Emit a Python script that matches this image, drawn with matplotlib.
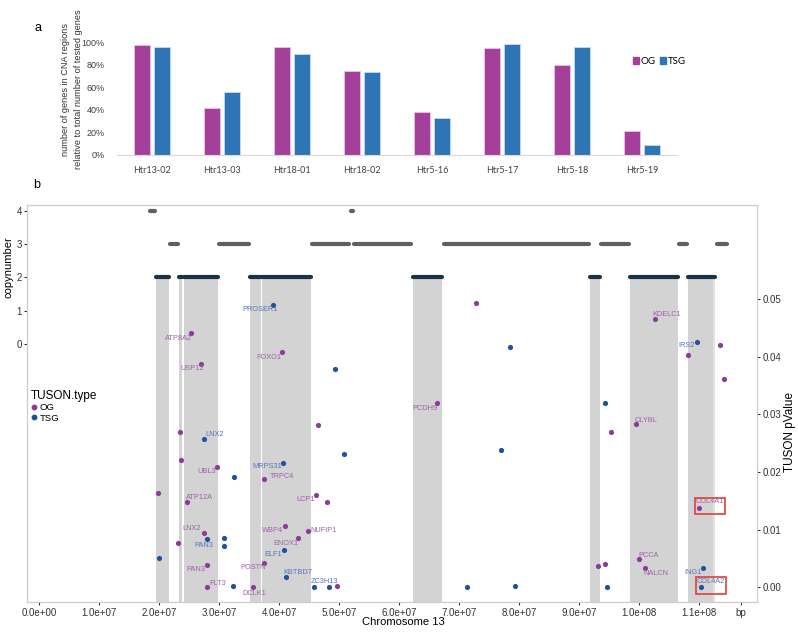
import matplotlib.pyplot as plt
from matplotlib.lines import Line2D
from matplotlib.patches import Patch, Rectangle

plt.rcParams['font.family'] = ['Liberation Sans', 'DejaVu Sans']

# ---- panel a data ----
samples = ["Htr13-02", "Htr13-03", "Htr18-01", "Htr18-02",
           "Htr5-16", "Htr5-17", "Htr5-18", "Htr5-19"]
og_frac = [0.973, 0.414, 0.958, 0.743, 0.382, 0.949, 0.796, 0.216]
tsg_frac = [0.958, 0.559, 0.893, 0.734, 0.326, 0.982, 0.958, 0.086]

# ---- panel b data (chromosome 13) ----
cn2_start = [1.95e7, 2.333e7, 2.417e7, 3.517e7, 3.717e7, 6.233e7, 9.183e7, 9.85e7, 1.0817e8]
cn2_end = [2.167e7, 2.383e7, 2.983e7, 3.70e7, 4.533e7, 6.717e7, 9.35e7, 1.065e8, 1.1233e8]
cn2_thin = (1.1238e8, 1.1275e8)

cn3_start = [2.183e7, 3.0e7, 4.55e7, 5.25e7, 5.68e7, 6.75e7, 8.64e7, 9.37e7, 1.067e8, 1.13e8]
cn3_end = [2.317e7, 3.5e7, 5.167e7, 5.68e7, 6.2e7, 8.64e7, 9.17e7, 9.83e7, 1.08e8, 1.147e8]

cn4_start = [1.85e7, 5.2e7]
cn4_end = [1.93e7, 5.23e7]

og_pos = [2.528e7, 2.70e7, 4.045e7, 4.65e7, 2.35e7, 7.278e7, 1.0272e8, 1.0817e8, 1.1356e8,
          1.1422e8, 6.628e7, 9.956e7, 9.539e7, 2.367e7, 2.972e7, 3.756e7, 1.978e7, 4.61e7,
          4.80e7, 2.461e7, 2.75e7, 4.10e7, 4.489e7, 4.311e7, 2.311e7, 3.75e7, 2.806e7,
          4.961e7, 2.794e7, 3.572e7, 1.1006e8, 1.0e8, 1.01e8, 9.317e7, 9.439e7]
og_pval = [0.0441, 0.0387, 0.0408, 0.0281, 0.0270, 0.0493, 0.0465, 0.0402, 0.0421,
           0.0362, 0.0319, 0.0283, 0.0269, 0.0221, 0.0208, 0.0187, 0.0164, 0.0160,
           0.0148, 0.0148, 0.0094, 0.0106, 0.0098, 0.0085, 0.0077, 0.0043, 0.0039,
           0.0003, 0.0000, 0.0000, 0.0138, 0.0049, 0.0034, 0.0037, 0.0041]
og_gene = ["ATP8A2", "USP12", "FOXO1", "", "", "", "KDELC1", "", "",
           "", "PCDH9", "CLYBL", "", "", "UBL3", "TRPC4", "", "LCP1",
           "", "ATP12A", "LNX2", "WBP4", "NUFIP1", "ENOX1", "", "POSTN", "PAN3",
           "", "FLT3", "DCLK1", "COL4A1", "PCCA", "NALCN", "", ""]

tsg_pos = [3.895e7, 4.94e7, 2.75e7, 5.09e7, 4.067e7, 3.256e7, 2.806e7, 3.089e7, 3.089e7,
           4.089e7, 2.0e7, 4.111e7, 4.589e7, 4.828e7, 3.228e7, 7.856e7, 1.0972e8, 9.439e7,
           7.694e7, 1.1061e8, 1.1028e8, 7.139e7, 7.928e7, 9.467e7]
tsg_pval = [0.0489, 0.0378, 0.0258, 0.0231, 0.0215, 0.0191, 0.0084, 0.0085, 0.0072,
            0.0065, 0.0050, 0.0017, 0.0000, 0.0000, 0.0002, 0.0416, 0.0426, 0.0319,
            0.0238, 0.0033, 0.0000, 0.0000, 0.0002, 0.0000]
tsg_gene = ["PROSER1", "", "LNX2", "", "MRPS31", "", "PAN3", "", "",
            "ELF1", "", "KBTBD7", "ZC3H13", "", "", "", "IRS2", "",
            "", "ING1", "COL4A2", "", "", ""]

highlight = ["COL4A1", "COL4A2"]

# label offsets in pixels (repel-like placement)
offsets = {
    ("OG", "ATP8A2"): (-12, 5), ("OG", "USP12"): (-9, 4), ("OG", "FOXO1"): (-13, 5),
    ("OG", "KDELC1"): (11, -5), ("OG", "PCDH9"): (-12, 5), ("OG", "CLYBL"): (10, -4),
    ("OG", "UBL3"): (-11, 4), ("OG", "TRPC4"): (18, -3), ("OG", "LCP1"): (-10, 4),
    ("OG", "ATP12A"): (13, -4), ("OG", "LNX2"): (-12, -5), ("OG", "WBP4"): (-12, 4),
    ("OG", "NUFIP1"): (15, 0), ("OG", "ENOX1"): (-12, 5), ("OG", "POSTN"): (-11, 5),
    ("OG", "PAN3"): (-12, 5), ("OG", "FLT3"): (11, -4), ("OG", "DCLK1"): (1, 6),
    ("OG", "COL4A1"): (10, -6), ("OG", "PCCA"): (10, -4), ("OG", "NALCN"): (11, 6),
    ("TSG", "PROSER1"): (-13, 4), ("TSG", "LNX2"): (11, -4), ("TSG", "MRPS31"): (-16, 3),
    ("TSG", "PAN3"): (-4, 7), ("TSG", "ELF1"): (-11, 5), ("TSG", "KBTBD7"): (12, -5),
    ("TSG", "ZC3H13"): (10, -6), ("TSG", "IRS2"): (-11, 4), ("TSG", "ING1"): (-10, 4),
    ("TSG", "COL4A2"): (10, -6),
}

og_bar = "#a4409a"
tsg_bar = "#2e75b6"
og_pt = "#8b3c98"
tsg_pt = "#21509f"
og_txt = "#a060aa"
tsg_txt = "#5674b8"

fig = plt.figure(figsize=(7.98, 6.32), dpi=100)
W, H = 798, 632

# ---------------- panel a ----------------
axa = fig.add_axes([117 / W, 1 - 155 / H, 560 / W, 112.7 / H])
xs = list(range(len(samples)))
axa.bar([x - 0.143 for x in xs], og_frac, width=0.23, color=og_bar,
        edgecolor="#e9c6e4", linewidth=0.6, label="OG")
axa.bar([x + 0.143 for x in xs], tsg_frac, width=0.23, color=tsg_bar,
        edgecolor="#c4daf0", linewidth=0.6, label="TSG")
axa.set_xlim(-0.5, len(samples) - 0.5)
axa.set_ylim(0, 1)
axa.set_yticks([0, 0.2, 0.4, 0.6, 0.8, 1.0])
axa.set_yticklabels(["0%", "20%", "40%", "60%", "80%", "100%"], fontsize=6.5, color="#404040")
axa.set_xticks(xs)
axa.set_xticklabels(samples, fontsize=6.5, color="#404040", family=["Lato", "DejaVu Sans"])
axa.tick_params(length=0, pad=8)
axa.tick_params(axis="y", pad=9)
for s in ["top", "right", "left"]:
    axa.spines[s].set_visible(False)
axa.spines["bottom"].set_color("#d9d9d9")
axa.patch.set_visible(False)
fig.legend(handles=[Patch(color=og_bar, label="OG"), Patch(color=tsg_bar, label="TSG")],
           loc="center left", bbox_to_anchor=(624 / W, 1 - 61 / H), ncol=2, frameon=False,
           handlelength=0.6, handleheight=0.75, handletextpad=0.2,
           columnspacing=0.5, prop={"family": ["Lato", "DejaVu Sans"], "size": 7})
fig.text(72 / W, 1 - 89 / H,
         "number of genes in CNA regions\nrelative to total number of tested genes",
         rotation=90, ha="center", va="center", fontsize=6.6, linespacing=1.45, color="#333333")
fig.text(38 / W, 1 - 28 / H, "a", fontsize=9, ha="center", va="center")
fig.text(37 / W, 1 - 185 / H, "b", fontsize=9, ha="center", va="center")

# ---------------- panel b ----------------
ax = fig.add_axes([27 / W, 1 - 602 / H, 730 / W, 397 / H])
ax.set_xlim(-2e6, 1.1967e8)
ax.set_ylim(-7.75, 4.17)

for a, b in zip(cn2_start, cn2_end):
    ax.bar(a, 2 - (-7.75), bottom=-7.75, width=b - a, align="edge",
           color="#d3d3d3", linewidth=0, zorder=1)
ax.bar(cn2_thin[0], 9.75, bottom=-7.75, width=cn2_thin[1] - cn2_thin[0], align="edge",
       color="#e2e2e2", linewidth=0, zorder=1)

for a, b in zip(cn3_start, cn3_end):
    ax.plot([a, b], [3, 3], color="#606060", lw=3.0, solid_capstyle="round", zorder=3)
for a, b in zip(cn4_start, cn4_end):
    ax.plot([a, b], [4, 4], color="#606060", lw=3.0, solid_capstyle="round", zorder=3)
for a, b in zip(cn2_start + [cn2_thin[0]], cn2_end + [cn2_thin[1]]):
    ax.plot([a, b], [2, 2], color="#1b3246", lw=3.0, solid_capstyle="round", zorder=3)

ax.set_yticks([0, 1, 2, 3, 4])
ax.set_yticklabels(["0", "1", "2", "3", "4"], fontsize=7, color="#333333")
xt = [i * 1e7 for i in range(12)] + [1.17e8]
ax.set_xticks(xt)
ax.set_xticklabels(["%.1e" % v for v in xt[:-1]] + ["bp"], fontsize=7, color="#333333")
ax.tick_params(length=2, width=0.8, color="#333333", pad=2)
ax.tick_params(axis="y", pad=1.5)
for s in ax.spines.values():
    s.set_color("#cccccc")
    s.set_linewidth(0.8)

ax2 = ax.twinx()
ax2.set_ylim(-0.00255, 0.0663)
ax2.set_yticks([0, 0.01, 0.02, 0.03, 0.04, 0.05])
ax2.set_yticklabels(["0.00", "0.01", "0.02", "0.03", "0.04", "0.05"], fontsize=7, color="#333333")
ax2.tick_params(length=2, width=0.8, color="#333333", pad=2)
for s in ax2.spines.values():
    s.set_color("#cccccc")
    s.set_linewidth(0.8)

ax2.scatter(og_pos, og_pval, s=14, color=og_pt, linewidths=0, zorder=4)
ax2.scatter(tsg_pos, tsg_pval, s=14, color=tsg_pt, linewidths=0, zorder=4)

for kind, pos, pv, genes, col in [("OG", og_pos, og_pval, og_gene, og_txt),
                                  ("TSG", tsg_pos, tsg_pval, tsg_gene, tsg_txt)]:
    for x, p, g in zip(pos, pv, genes):
        if not g:
            continue
        dx, dy = offsets[(kind, g)]
        ax2.annotate(g, (x, p), xytext=(dx * 0.72, -dy * 0.72), textcoords="offset points",
                     ha="center", va="center", fontsize=5.3, color=col, zorder=5)
        if g in highlight:
            ax2.add_patch(Rectangle((x - 0.08e7, p - 0.0011), 0.51e7, 0.0028,
                                    fill=False, edgecolor="#e0403a", lw=1.2, zorder=6))

fig.legend(handles=[Line2D([], [], marker="o", ls="", color=og_pt, markersize=3.2, label="OG"),
                    Line2D([], [], marker="o", ls="", color=tsg_pt, markersize=3.2, label="TSG")],
           title="TUSON.type", loc="upper left", bbox_to_anchor=(29 / W, 1 - 388 / H),
           frameon=True, facecolor="white", edgecolor="none", framealpha=1, fancybox=False,
           fontsize=6.8, title_fontsize=8.5, alignment="left", handlelength=0.6,
           handletextpad=0.3, labelspacing=0.15, borderpad=0.2, borderaxespad=0)

fig.text(9 / W, 1 - 267 / H, "copynumber", rotation=90, ha="center", va="center", fontsize=8)
fig.text(790 / W, 1 - 432 / H, "TUSON pValue", rotation=90, ha="center", va="center", fontsize=8.5)
fig.text(403 / W, 1 - 617 / H, "Chromosome 13", ha="center", va="top", fontsize=8)

fig.savefig("out.png", dpi=100)
